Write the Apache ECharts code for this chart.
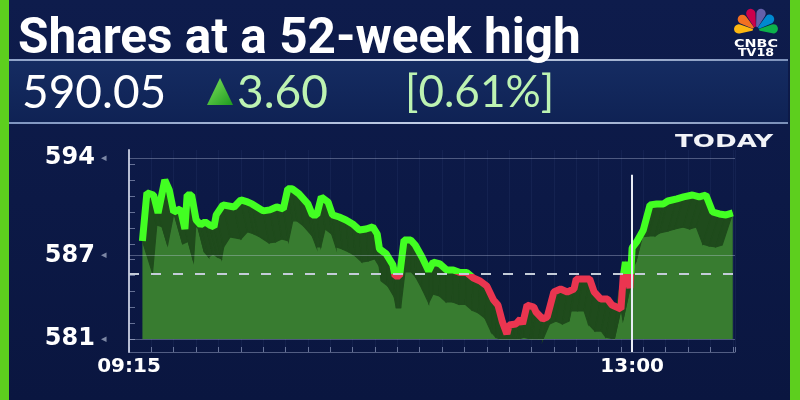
<!DOCTYPE html>
<html>
<head>
<meta charset="utf-8">
<script src="https://cdn.jsdelivr.net/npm/echarts@6/dist/echarts.min.js"></script>
<style>
  html, body { margin: 0; padding: 0; background: #0c1a46; }
  #chart { width: 800px; height: 400px; }
</style>
</head>
<body>
<div id="chart"></div>
<script>
// minutes after the 09:15 open
var minutes = [6, 8, 11, 13, 16, 18, 20, 23, 25, 26, 28, 30, 32, 34, 36, 38, 39, 42, 47, 50,
  53, 55, 60, 63, 66, 69, 71, 73, 76, 80, 82, 84, 86, 89, 91, 94, 97, 100, 103, 106,
  109, 111, 112, 115, 118, 119, 121, 123, 126, 128, 131, 134, 136, 139, 142, 145, 148, 151, 154, 157,
  160, 163, 165, 167, 169, 170, 173, 175, 176, 178, 181, 182, 185, 187, 190, 193, 196, 199, 200, 203,
  206, 208, 211, 214, 216, 220, 221, 222, 224, 225, 227, 230, 233, 236, 239, 241, 245, 248, 252, 255,
  258, 261, 264, 267, 270];
var prices = [588.04, 591.49, 591.34, 590.05, 592.42, 591.70, 590.12, 590.34, 588.90, 591.34,
  591.34, 589.55, 589.19, 589.41, 589.19, 589.05, 589.91, 590.63, 590.48, 590.99,
  590.84, 590.70, 590.20, 590.27, 590.48, 590.34, 591.78, 591.78, 591.42, 590.70,
  589.91, 589.91, 591.20, 590.84, 589.91, 589.76, 589.55, 589.26, 588.83, 588.90,
  589.05, 588.54, 587.47, 587.11, 586.32, 585.53, 585.53, 588.11, 588.11, 587.75,
  586.89, 585.89, 586.53, 586.39, 585.96, 585.96, 585.78, 585.78, 585.38, 585.17,
  584.81, 583.80, 583.44, 582.22, 581.36, 582.01, 582.08, 582.44, 582.08, 583.44,
  583.30, 582.94, 582.44, 582.58, 584.38, 584.59, 584.38, 584.59, 585.31, 585.31,
  585.31, 584.38, 583.87, 583.87, 583.44, 583.16, 585.45, 586.53, 584.66, 587.54,
  587.97, 588.83, 590.63, 590.70, 590.70, 590.91, 591.06, 591.20, 591.34, 591.20,
  591.34, 590.12, 589.98, 589.91, 590.05];

var prevClose = 585.7;
var yTicks = [581, 587, 594];
var timeTicks = [0, 225];
var timeLabels = ['09:15', '13:00'];
var markerTime = 225;

var title = 'Shares at a 52-week high';
var lastPrice = '590.05';
var change = '3.60';
var changePct = '[0.61%]';

var chart = echarts.init(document.getElementById('chart'));

var linePoints = minutes.map(function (m, i) { return [m, prices[i]]; });
var segments = [];
for (var i = 0; i < minutes.length - 1; i++) {
  segments.push([minutes[i], prices[i], minutes[i + 1], prices[i + 1]]);
}

// green above the previous close, red below it
var hi = Math.max.apply(null, prices), lo = Math.min.apply(null, prices);
var cut = (hi - prevClose) / (hi - lo);
var lineColor = new echarts.graphic.LinearGradient(0, 0, 0, 1, [
  { offset: 0, color: '#42ff22' }, { offset: cut, color: '#42ff22' },
  { offset: cut, color: '#ea3550' }, { offset: 1, color: '#ea3550' }
]);

// little minor ticks along the price axis
var minorTicks = [];
for (var v = 581; v <= 594.5; v += 1.14) minorTicks.push(v);

// 3d look: push the ribbon down, leaning towards the middle
function depth(x) {
  return [(430 - x) * 0.035, 32];
}

var feathers = ['#fcb711', '#f37021', '#cc004c', '#6460aa', '#0089d0', '#0db14b'];
var logo = feathers.map(function (c, k) {
  var a0 = (168 + 34.5 * k) * Math.PI / 180;
  return {
    type: 'sector',
    shape: { cx: 756, cy: 30, r: 22, r0: 3, startAngle: a0, endAngle: a0 + 31 * Math.PI / 180, cornerRadius: 7 },
    style: { fill: c }
  };
});

var option = {
  backgroundColor: new echarts.graphic.LinearGradient(0, 0, 0, 1, [
    { offset: 0, color: '#0e1c4c' },
    { offset: 1, color: '#0a1640' }
  ]),
  animation: false,
  grid: { left: 129, right: 65, top: 150, bottom: 48 },
  xAxis: {
    type: 'value',
    min: 0,
    max: 271,
    interval: 10,
    axisLine: { show: true, lineStyle: { color: 'rgba(190,200,230,0.4)', width: 1 } },
    axisTick: { show: true, inside: true, length: 5, lineStyle: { color: 'rgba(190,200,230,0.5)' } },
    splitLine: { show: true, lineStyle: { color: 'rgba(120,140,200,0.08)' } },
    axisLabel: {
      customValues: timeTicks,
      formatter: function (val) { return timeLabels[timeTicks.indexOf(val)]; },
      color: '#ffffff',
      fontFamily: 'DejaVu Sans',
      fontWeight: 'bold',
      fontSize: 20,
      margin: 5
    }
  },
  yAxis: {
    type: 'value',
    min: 580.07,
    max: 594.57,
    axisLine: { show: true, lineStyle: { color: 'rgba(225,230,245,0.8)', width: 2 } },
    axisTick: {
      show: true, inside: true, length: 6, customValues: minorTicks,
      lineStyle: { color: 'rgba(190,200,230,0.5)' }
    },
    splitLine: { show: false },
    axisLabel: {
      customValues: yTicks,
      margin: 22,
      formatter: function (val) { return '{v|' + val + '}{a|  ◂}'; },
      rich: {
        v: { color: '#ffffff', fontFamily: 'DejaVu Sans', fontWeight: 'bold', fontSize: 24 },
        a: { color: 'rgba(200,210,230,0.6)', fontSize: 11 }
      }
    }
  },
  series: [
    {
      type: 'line',
      data: linePoints,
      showSymbol: false,
      lineStyle: { width: 0 },
      areaStyle: { color: '#387c30', opacity: 1, origin: 581 },
      z: 1,
      markLine: {
        silent: true,
        symbol: 'none',
        label: { show: false },
        data: [
          { yAxis: 594, lineStyle: { color: 'rgba(200,210,235,0.35)', width: 1, type: 'solid' } },
          { yAxis: 587, lineStyle: { color: 'rgba(200,210,235,0.35)', width: 1, type: 'solid' } },
          { yAxis: 581, lineStyle: { color: 'rgba(200,210,235,0.35)', width: 1, type: 'solid' } },
          { yAxis: prevClose, lineStyle: { color: '#c4ccd8', width: 2, type: [10, 12] } },
          [
            { coord: [markerTime, 592.8], lineStyle: { color: '#e8ecf4', width: 2, type: 'solid' } },
            { coord: [markerTime, 580.07] }
          ]
        ]
      }
    },
    {
      type: 'custom',
      data: segments,
      encode: { x: [0, 2], y: [1, 3] },
      z: 2,
      renderItem: function (params, api) {
        var a = api.coord([api.value(0), api.value(1)]);
        var b = api.coord([api.value(2), api.value(3)]);
        var base = api.coord([0, 581])[1];
        var da = depth(a[0]), db = depth(b[0]);
        return {
          type: 'polygon',
          shape: {
            points: [a, b,
              [b[0] + db[0], Math.min(b[1] + db[1], base)],
              [a[0] + da[0], Math.min(a[1] + da[1], base)]]
          },
          style: { fill: '#1f4b1c', stroke: '#1f4b1c', lineWidth: 1.2 }
        };
      }
    },
    {
      type: 'line',
      data: linePoints,
      showSymbol: false,
      z: 3,
      lineStyle: { width: 7, color: lineColor }
    }
  ],
  graphic: [
    { type: 'rect', shape: { x: 0, y: 0, width: 9, height: 400 }, style: { fill: '#5dcf1e' }, z: 10 },
    { type: 'rect', shape: { x: 790, y: 0, width: 10, height: 400 }, style: { fill: '#5dcf1e' }, z: 10 },
    {
      type: 'rect', shape: { x: 9, y: 60, width: 779, height: 63 },
      style: {
        fill: new echarts.graphic.LinearGradient(0, 0, 0, 1, [
          { offset: 0, color: '#152c62' }, { offset: 1, color: '#0f2254' }
        ])
      }, z: 5
    },
    {
      type: 'rect', shape: { x: 9, y: 59, width: 779, height: 2 },
      style: {
        fill: new echarts.graphic.LinearGradient(0, 0, 1, 0, [
          { offset: 0, color: '#8fa3c9' }, { offset: 0.5, color: '#d5deee' }, { offset: 1, color: '#7d92bb' }
        ])
      }, z: 6
    },
    {
      type: 'rect', shape: { x: 9, y: 122, width: 779, height: 2 },
      style: {
        fill: new echarts.graphic.LinearGradient(0, 0, 1, 0, [
          { offset: 0, color: '#7f95c0' }, { offset: 0.6, color: '#c9d4ea' }, { offset: 1, color: '#7a8fb8' }
        ])
      }, z: 6
    },
    {
      type: 'text', x: 18, y: 40, z: 10, scaleX: 0.99,
      style: { text: title, font: 'bold 50px Roboto', fill: '#ffffff', textVerticalAlign: 'middle' }
    },
    {
      type: 'text', x: 22, y: 93, z: 10,
      style: { text: lastPrice, font: '46px Lato', fill: '#ffffff', textVerticalAlign: 'middle' }
    },
    {
      type: 'polygon', z: 10,
      shape: { points: [[207, 105], [220, 78], [233, 105]] },
      style: {
        fill: new echarts.graphic.LinearGradient(0, 0, 1, 1, [
          { offset: 0, color: '#7ee35d' }, { offset: 1, color: '#1e9a1f' }
        ])
      }
    },
    {
      type: 'text', x: 237, y: 93, z: 10,
      style: { text: change, font: '46px Lato', fill: '#bdf3b2', textVerticalAlign: 'middle' }
    },
    {
      type: 'text', x: 405, y: 93, z: 10,
      style: { text: changePct, font: '44px Lato', fill: '#bdf3b2', textVerticalAlign: 'middle' }
    },
    {
      type: 'text', x: 675, y: 142, z: 10, scaleX: 1.45,
      style: { text: 'TODAY', font: 'bold 18px "DejaVu Sans"', fill: '#f2f4f8', textVerticalAlign: 'middle' }
    },
    { type: 'group', z: 10, children: logo },
    {
      type: 'text', x: 756, y: 44.5, z: 10, scaleX: 1.3,
      style: { text: 'CNBC', font: 'bold 11px "DejaVu Sans"', fill: '#ffffff', textAlign: 'center', textVerticalAlign: 'middle' }
    },
    {
      type: 'text', x: 756, y: 53, z: 10, scaleX: 1.15,
      style: { text: 'TV18', font: 'bold 11px "DejaVu Sans"', fill: '#ffffff', textAlign: 'center', textVerticalAlign: 'middle' }
    }
  ]
};

chart.setOption(option);
</script>
</body>
</html>
